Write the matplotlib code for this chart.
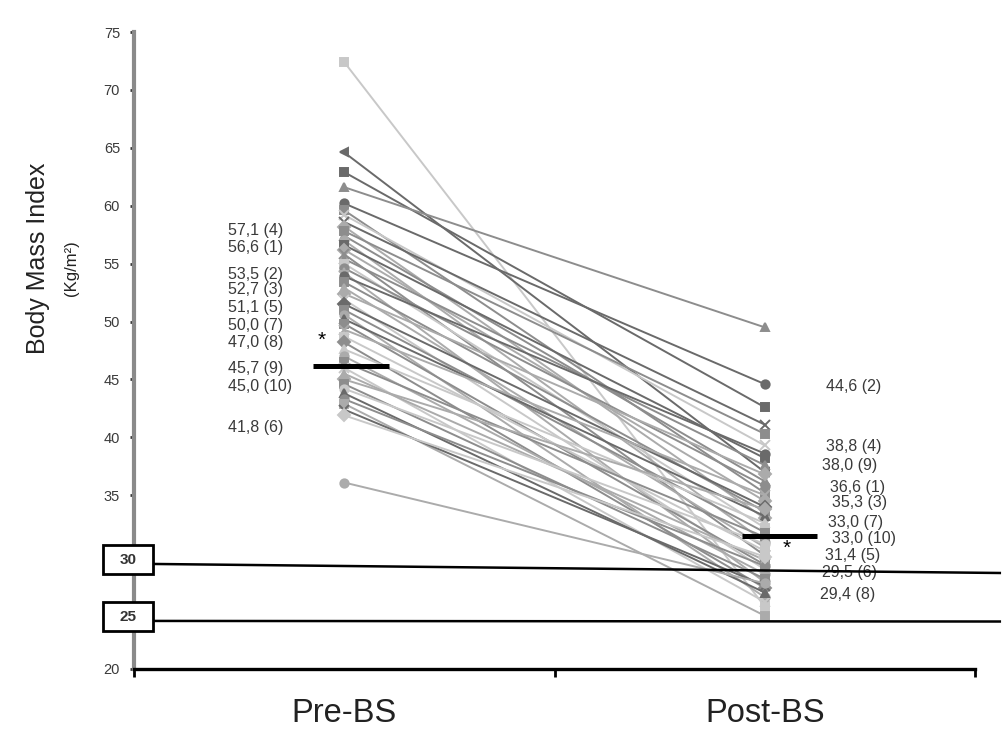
import matplotlib
matplotlib.use("Agg")
import matplotlib.pyplot as plt
from matplotlib.patches import Rectangle

plt.rcParams['font.family'] = ['Liberation Sans', 'DejaVu Sans']

# ---------------- data ----------------
categories = ["Pre-BS", "Post-BS"]
pre_bmi = [72.4, 64.6, 62.9, 61.6, 60.2, 59.6, 59.2, 58.6, 58.2, 57.8,
           57.4, 57.0, 56.6, 56.2, 55.8, 55.4, 55.0, 54.6, 54.2, 53.9,
           53.4, 52.9, 52.4, 51.9, 51.5, 51.0, 50.6, 50.2, 49.8, 49.3,
           48.7, 48.2, 47.6, 47.0, 46.5, 46.0, 45.5, 45.0, 44.6, 44.2,
           43.8, 43.3, 42.9, 42.4, 41.9, 36.1]
post_bmi = [25.4, 37.0, 42.6, 49.5, 44.6, 35.2, 39.3, 41.1, 33.0, 40.3,
            36.2, 31.0, 38.2, 34.5, 29.8, 37.6, 32.2, 35.8, 27.5, 38.6,
            33.6, 30.5, 36.8, 28.6, 34.0, 31.8, 26.2, 33.2, 29.0, 35.0,
            30.2, 27.0, 32.6, 28.2, 31.4, 25.8, 29.4, 33.8, 27.8, 30.8,
            26.6, 28.9, 24.6, 27.2, 29.7, 27.4]
series_shade = ["vl", "d", "d", "m", "d", "m", "vl", "d", "l", "m",
                "m", "l", "d", "l", "m", "m", "vl", "m", "l", "d",
                "m", "l", "l", "vl", "d", "m", "l", "d", "m", "l",
                "vl", "m", "vl", "l", "m", "vl", "l", "l", "m", "vl",
                "d", "m", "l", "d", "vl", "l"]
series_marker = ["s", "<", "s", "^", "o", "s", "x", "x", "D", "s",
                 "^", "o", "s", "D", "x", "^", "s", "o", "*", "o",
                 "s", "^", "D", "x", "D", "s", "o", "^", "s", "x",
                 "s", "D", "^", "o", "s", "x", "^", "D", "s", "o",
                 "^", "o", "s", "x", "D", "o"]

pre_mean = 46.2
post_mean = 31.5

pre_labels = ["57,1 (4)", "56,6 (1)", "53,5 (2)", "52,7 (3)", "51,1 (5)",
              "50,0 (7)", "47,0 (8)", "45,7 (9)", "45,0 (10)", "41,8 (6)"]
post_labels = ["44,6 (2)", "38,8 (4)", "38,0 (9)", "36,6 (1)", "35,3 (3)",
               "33,0 (7)", "33,0 (10)", "31,4 (5)", "29,5 (6)", "29,4 (8)"]

ref_labels = ["30", "25"]
ref_left = [29.07, 24.15]
ref_right = [28.29, 24.10]

yticks = [20, 35, 40, 45, 50, 55, 60, 65, 70, 75]

# ---------------- layout / style ----------------
shade_color = {"d": "#6a6a6a", "m": "#8d8d8d", "l": "#ababab", "vl": "#c8c8c8"}
pre_label_y = [57.82, 56.36, 54.02, 52.73, 51.17, 49.62, 48.15, 45.91, 44.35, 40.81]
post_label_y = [44.35, 39.17, 37.53, 35.63, 34.34, 32.61, 31.23, 29.84, 28.29, 26.39]
post_label_x = [1.6457, 1.6457, 1.6362, 1.6552, 1.6600, 1.6505, 1.6600, 1.6433, 1.6362, 1.6314]

fig = plt.figure(figsize=(10.05, 7.41), dpi=100)
ax = fig.add_axes([134 / 1005, 72 / 741, (975 - 134) / 1005, (669 - 32) / 741])
ax.set_xlim(0, 2)
ax.set_ylim(20, 75)

xpos = [0.5, 1.5]
for pre, post, sh, mk in zip(pre_bmi, post_bmi, series_shade, series_marker):
    c = shade_color[sh]
    ms = 7 if mk in ("x", "*") else 6
    ax.plot(xpos, [pre, post], color=c, lw=1.4, marker=mk, ms=ms,
            mec=c, mfc=c, mew=1.4, zorder=3)

# mean bars
ax.plot([0.4257, 0.6064], [pre_mean, pre_mean], color="black", lw=3.6,
        solid_capstyle="butt", zorder=6)
ax.plot([1.446, 1.624], [post_mean, post_mean], color="black", lw=3.6,
        solid_capstyle="butt", zorder=6)
ax.text(0.447, 48.4, "*", fontsize=15, ha="center", va="center", zorder=7)
ax.text(1.553, 30.4, "*", fontsize=15, ha="center", va="center", zorder=7)

# annotation labels
for lab, y in zip(pre_labels, pre_label_y):
    ax.text(0.2235, y, lab, fontsize=11.5, color="#3a3a3a", ha="left",
            va="center", zorder=4)
for lab, y, x in zip(post_labels, post_label_y, post_label_x):
    ax.text(x, y, lab, fontsize=11.5, color="#3a3a3a", ha="left",
            va="center", zorder=4)

# reference lines with boxed labels
for lab, yl, yr in zip(ref_labels, ref_left, ref_right):
    ax.plot([0.045, 2.059], [yl, yr], color="black", lw=1.8, clip_on=False,
            zorder=8)
    yc = yl + 0.35
    ax.add_patch(Rectangle((-0.0737, yc - 1.25), 0.1189, 2.5, fc="white",
                           ec="black", lw=2, clip_on=False, zorder=9))
    ax.text(-0.0143, yc, lab, fontsize=11, fontweight="bold", color="#333333",
            ha="center", va="center", zorder=10)

# axes styling
for s in ("top", "right"):
    ax.spines[s].set_visible(False)
ax.spines["left"].set_color("#8a8a8a")
ax.spines["left"].set_linewidth(3)
ax.spines["bottom"].set_color("black")
ax.spines["bottom"].set_linewidth(2.4)

ax.set_yticks(yticks)
ax.set_yticklabels([str(v) for v in yticks])
ax.tick_params(axis="y", length=3, width=2, color="#333333", labelsize=10.5,
               labelcolor="#3a3a3a", pad=7)
ax.set_xticks(xpos)
ax.set_xticklabels(categories)
ax.tick_params(axis="x", which="major", length=0, labelsize=23.5, pad=21,
               labelcolor="#222222")
ax.set_xticks([0, 1, 2], minor=True)
ax.tick_params(axis="x", which="minor", length=6, width=2, color="black")

fig.text(38 / 1005, 1 - 258 / 741, "Body Mass Index", rotation=90,
         fontsize=18, ha="center", va="center", color="#222222")
fig.text(71 / 1005, 1 - 268 / 741, "(Kg/m²)", rotation=90,
         fontsize=12, ha="center", va="center", color="#222222")

fig.savefig("out.png", dpi=100, facecolor="white")
